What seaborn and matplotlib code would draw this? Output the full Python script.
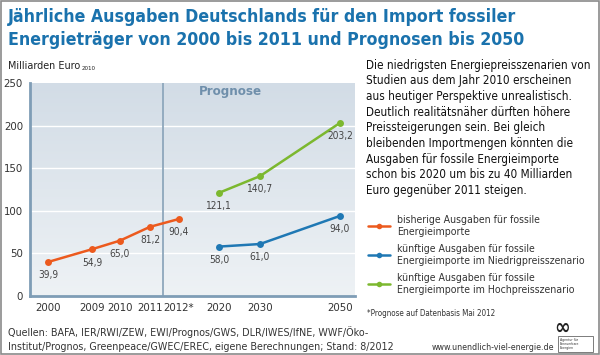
import os

import matplotlib
matplotlib.use("Agg")
import matplotlib.pyplot as plt
import numpy as np
import pandas as pd
import seaborn as sns
from matplotlib import font_manager as fm
from matplotlib.lines import Line2D
from matplotlib.patches import Rectangle

# -----------------------------------------------------------------------------
# Data (Milliarden Euro 2010)
# -----------------------------------------------------------------------------
years_hist = ["2000", "2009", "2010", "2011", "2012*"]
values_hist = [39.9, 54.9, 65.0, 81.2, 90.4]

years_prog = ["2020", "2030", "2050"]
values_low = [58.0, 61.0, 94.0]
values_high = [121.1, 140.7, 203.2]

tick_labels = years_hist + years_prog
y_ticks = [0, 50, 100, 150, 200, 250]

series_names = [
    "bisherige Ausgaben für fossile\nEnergieimporte",
    "künftige Ausgaben für fossile\nEnergieimporte im Niedrigpreisszenario",
    "künftige Ausgaben für fossile\nEnergieimporte im Hochpreisszenario",
]

# layout: horizontal placement of each year on the (uneven) x axis
x_slot = {"2000": 18, "2009": 62, "2010": 90, "2011": 120, "2012*": 149,
          "2020": 189, "2030": 230, "2050": 310}
divider_x = 133

c_orange = "#ec5a1e"
c_blue = "#1f78b4"
c_green = "#7cb82f"
c_title = "#1a72ad"
c_spine = "#7f9db6"


def pick_font():
    """Look for a narrow sans face, the original uses a DIN-like font."""
    entries = fm.fontManager.ttflist
    prefs = [
        lambda e: e.name == "Liberation Sans Narrow",
        lambda e: e.name.startswith("DejaVu Sans") and "Condensed" in e.fname
        and "Mono" not in e.fname,
        lambda e: e.name.startswith("Noto Sans")
        and os.path.basename(e.fname).startswith("NotoSans-Condensed"),
        lambda e: e.name == "Roboto Condensed",
    ]
    for p in prefs:
        for e in entries:
            if p(e):
                return e.name, e.stretch
    return "Lato", "normal"


font_name, font_stretch = pick_font()

sns.set_theme(style="white")
plt.rcParams["font.family"] = [font_name, "DejaVu Sans"]
plt.rcParams["font.stretch"] = font_stretch

fig = plt.figure(figsize=(6, 3.55), dpi=100)
renderer = fig.canvas.get_renderer()


def fit(txt, width_px):
    """Scale a text's font size so it spans roughly width_px pixels."""
    w = txt.get_window_extent(renderer=renderer).width
    txt.set_fontsize(txt.get_fontsize() * width_px / w)
    return txt.get_fontsize()


def size_for(sample, width_px, **kw):
    t = fig.text(0, 0, sample, fontsize=10, **kw)
    s = fit(t, width_px)
    t.remove()
    return s


df = pd.concat([
    pd.DataFrame({"year": years_hist, "value": values_hist, "series": "hist"}),
    pd.DataFrame({"year": years_prog, "value": values_low, "series": "low"}),
    pd.DataFrame({"year": years_prog, "value": values_high, "series": "high"}),
], ignore_index=True)
df["x"] = df["year"].map(x_slot)
palette = {"hist": c_orange, "low": c_blue, "high": c_green}

ax = fig.add_axes([30 / 600, 1 - 296 / 355, 325 / 600, 213 / 355])

# gradient background, darker at the top
grad = np.linspace(0, 1, 256).reshape(-1, 1)
cmap = matplotlib.colors.LinearSegmentedColormap.from_list(
    "bg", ["#d2dce6", "#eef2f5"])
ax.imshow(grad, extent=[0, 325, 0, 250], origin="upper", aspect="auto",
          cmap=cmap, zorder=0)

for yv in y_ticks[1:-1]:
    ax.axhline(yv, color="white", lw=1.0, zorder=1)
ax.axvline(divider_x, color="#8ea7bc", lw=1.3, zorder=1)

sns.lineplot(data=df, x="x", y="value", hue="series", palette=palette,
             marker="o", markersize=5, markeredgewidth=0, lw=1.8,
             legend=False, ax=ax, zorder=3)

for _, r in df.iterrows():
    ax.annotate(f"{r.value:.1f}".replace(".", ","), (r.x, r.value),
                xytext=(0, -6), textcoords="offset points",
                ha="center", va="top", fontsize=7.3, color="#444444")

prog_size = size_for("Prognose", 63, fontweight="bold")
ax.text(200, 240.5, "Prognose", ha="center", va="center",
        fontsize=prog_size, fontweight="bold", color="#6f8fab")

ax.set_xlim(0, 325)
ax.set_ylim(0, 250)
ax.set_xticks([x_slot[t] for t in tick_labels])
ax.set_xticklabels(tick_labels)
ax.set_yticks(y_ticks)
ax.set_xlabel("")
ax.set_ylabel("")
ax.tick_params(axis="both", labelsize=8.2, colors="#333333",
               length=0, pad=5)
for s in ["top", "right"]:
    ax.spines[s].set_visible(False)
for s in ["left", "bottom"]:
    ax.spines[s].set_color(c_spine)
    ax.spines[s].set_linewidth(2)

# title
t1 = fig.text(8 / 600, 1 - 17 / 355,
              "Jährliche Ausgaben Deutschlands für den Import fossiler",
              fontsize=14, fontweight="bold", color=c_title, va="center")
title_size = fit(t1, 511)
fig.text(8 / 600, 1 - 40 / 355,
         "Energieträger von 2000 bis 2011 und Prognosen bis 2050",
         fontsize=title_size, fontweight="bold", color=c_title, va="center")

unit = fig.text(8 / 600, 1 - 66 / 355, "Milliarden Euro", fontsize=9,
                color="#222222", va="center")
fit(unit, 72)
bb = unit.get_window_extent(renderer=renderer)
sub = fig.text(bb.x1 / 600 + 0.002, 1 - 69 / 355, "2010", fontsize=5,
               color="#222222", va="center")
fit(sub, 14)

para = ["Die niedrigsten Energiepreisszenarien von",
        "Studien aus dem Jahr 2010 erscheinen",
        "aus heutiger Perspektive unrealistisch.",
        "Deutlich realitätsnäher dürften höhere",
        "Preissteigerungen sein. Bei gleich",
        "bleibenden Importmengen könnten die",
        "Ausgaben für fossile Energieimporte",
        "schon bis 2020 um bis zu 40 Milliarden",
        "Euro gegenüber 2011 steigen."]
para_size = size_for(para[0], 222)
for i, line in enumerate(para):
    fig.text(366 / 600, 1 - (65 + i * 15.7) / 355, line, fontsize=para_size,
             color="#111111", va="center")

# legend
leg_size = size_for("Energieimporte im Niedrigpreisszenario", 188)
for i, (name, col) in enumerate(zip(series_names, [c_orange, c_blue, c_green])):
    yc = 1 - (226 + i * 29) / 355
    fig.add_artist(Line2D([368 / 600, 390 / 600], [yc, yc], color=col, lw=1.8,
                          transform=fig.transFigure))
    fig.add_artist(Line2D([379 / 600], [yc], color=col, marker="o",
                          markersize=4, markeredgewidth=0,
                          transform=fig.transFigure))
    fig.text(397 / 600, yc, name, fontsize=leg_size, color="#333333",
             va="center", linespacing=1.2)

note = fig.text(367 / 600, 1 - 313 / 355, "*Prognose auf Datenbasis Mai 2012",
                fontsize=7, color="#333333", va="center")
fit(note, 130)

src1 = fig.text(8 / 600, 1 - 332 / 355,
                "Quellen: BAFA, IER/RWI/ZEW, EWI/Prognos/GWS, DLR/IWES/IfNE, WWF/Öko-",
                fontsize=8.5, color="#333333", va="center")
src_size = fit(src1, 357)
fig.text(8 / 600, 1 - 347 / 355,
         "Institut/Prognos, Greenpeace/GWEC/EREC, eigene Berechnungen; Stand: 8/2012",
         fontsize=src_size, color="#333333", va="center")
url = fig.text(432 / 600, 1 - 347 / 355, "www.unendlich-viel-energie.de",
               fontsize=7.5, color="#333333", va="center")
fit(url, 123)

# logo
fig.text(562 / 600, 1 - 328 / 355, "∞", fontsize=15, fontweight="bold",
         color="#222222", ha="center", va="center", family="DejaVu Sans")
fig.add_artist(Rectangle((558 / 600, 1 - 352 / 355), 35 / 600, 16 / 355,
                         fill=False, lw=0.6, ec="#666666",
                         transform=fig.transFigure))
fig.text(560 / 600, 1 - 344 / 355, "Agentur für\nErneuerbare\nEnergien",
         fontsize=2.5, color="#333333", va="center", linespacing=1.0)

# outer frame
fig.add_artist(Rectangle((1 / 600, 1 / 355), 598 / 600, 353 / 355, fill=False,
                         lw=1.2, ec="#8a8a8a", transform=fig.transFigure))

fig.savefig("out.png", dpi=100)
